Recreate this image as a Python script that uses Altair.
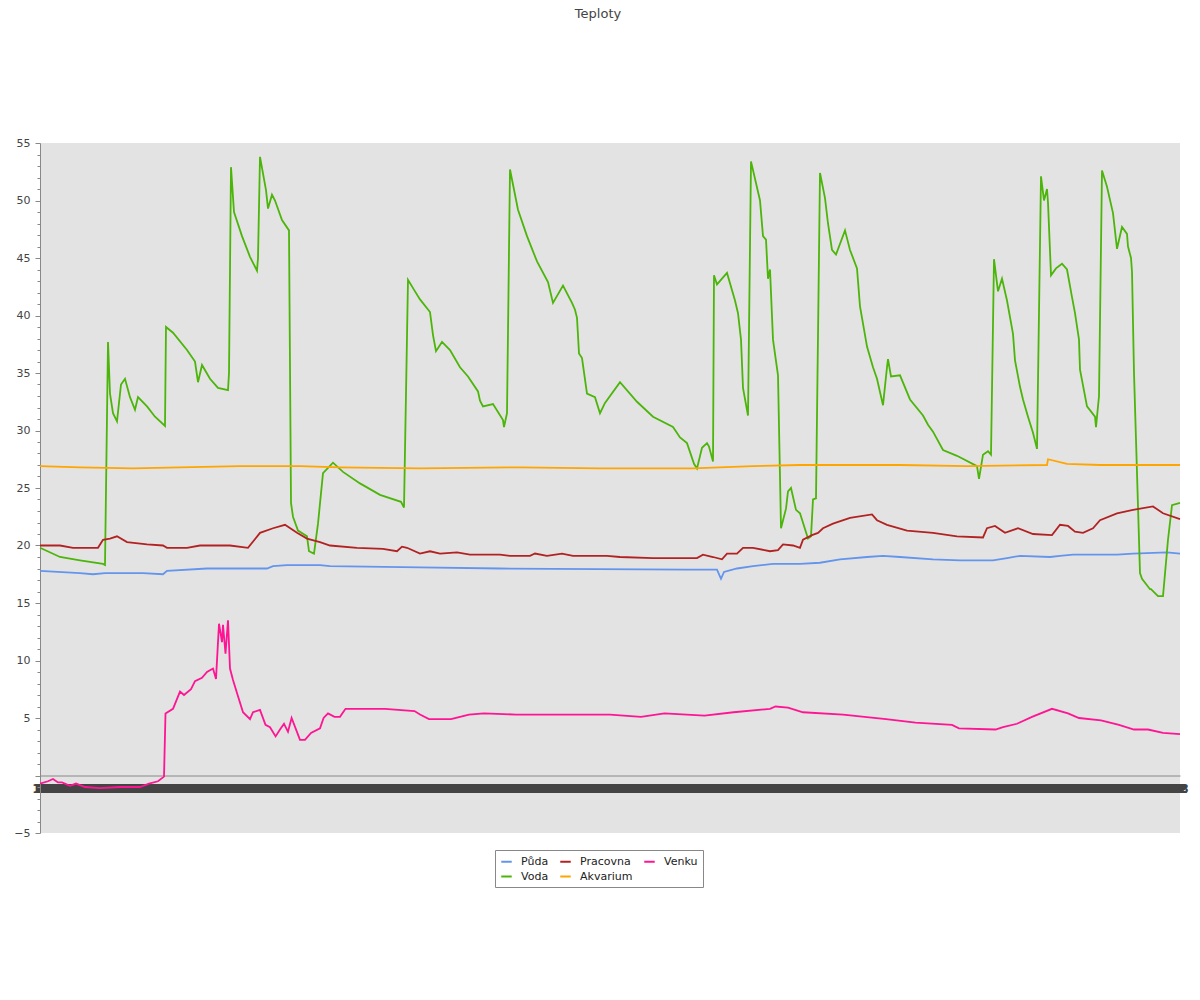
import altair as alt
import pandas as pd

# ---- data (t = position along the time axis, 0..1140; values in °C) ----
puda_t = [0, 40, 53, 65, 103, 123, 127, 167, 227, 233, 247, 280, 290, 380, 460, 647, 677, 681, 684, 697, 713, 733,
          760, 780, 800, 827, 843, 860, 893, 920, 953, 967, 980, 1010, 1020, 1033, 1077, 1093, 1127, 1140]
puda_v = [17.8, 17.6, 17.5, 17.6, 17.6, 17.5, 17.8, 18.0, 18.0, 18.2, 18.3, 18.3, 18.2, 18.1, 18.0, 17.9, 17.9, 17.1,
          17.7, 18.0, 18.2, 18.4, 18.4, 18.5, 18.8, 19.0, 19.1, 19.0, 18.8, 18.7, 18.7, 18.9, 19.1, 19.0, 19.1, 19.2,
          19.2, 19.3, 19.4, 19.3]

voda_t = [0, 20, 40, 63, 65, 68, 70, 73, 77, 81, 85, 90, 95, 98, 107, 115, 125, 126, 133, 147, 155, 158, 162, 170,
          178, 188, 189, 191, 194, 202, 210, 217, 218, 220, 226, 228, 232, 235, 242, 249, 251, 253, 258, 267, 269, 274,
          278, 283, 293, 303, 320, 340, 361, 364, 368, 375, 380, 390, 393, 396, 402, 410, 420, 428, 438, 440, 443, 453,
          463, 464, 467, 470, 478, 487, 497, 508, 513, 523, 532, 535, 537, 539, 542, 547, 555, 560, 565, 580, 597, 613,
          633, 640, 647, 654, 657, 662, 667, 669, 673, 674, 677, 687, 695, 698, 701, 703, 708, 711, 720, 723, 726, 728,
          730, 733, 738, 741, 746, 748, 751, 756, 760, 768, 771, 773, 776, 780, 785, 788, 792, 796, 805, 810, 817, 820,
          827, 833, 837, 843, 847, 848, 851, 860, 870, 883, 888, 893, 903, 917, 937, 939, 943, 948, 951, 954, 958, 962,
          967, 973, 975, 980, 983, 988, 993, 997, 1001, 1004, 1007, 1008, 1011, 1016, 1022, 1027, 1032, 1035, 1039,
          1040, 1047, 1055, 1056, 1059, 1062, 1067, 1073, 1077, 1082, 1087, 1088, 1091, 1092, 1094, 1100, 1102, 1110,
          1111, 1118, 1123, 1128, 1132, 1140]
voda_v = [19.8, 19.0, 18.7, 18.4, 18.3, 37.7, 33.2, 31.5, 30.8, 34.0, 34.5, 32.9, 31.8, 32.9, 32.1, 31.2, 30.4, 39.0,
          38.5, 37.0, 36.0, 34.2, 35.7, 34.5, 33.7, 33.5, 35.0, 52.9, 49.0, 46.9, 45.1, 43.9, 45.0, 53.8, 50.9, 49.3,
          50.5, 50.0, 48.3, 47.4, 23.7, 22.5, 21.3, 20.8, 19.5, 19.3, 21.9, 26.3, 27.2, 26.4, 25.4, 24.4, 23.8, 23.3,
          43.1, 42.1, 41.4, 40.3, 38.3, 36.9, 37.7, 37.0, 35.5, 34.7, 33.4, 32.6, 32.1, 32.3, 30.9, 30.3, 31.5, 52.7,
          49.2, 46.9, 44.7, 42.9, 41.1, 42.6, 41.1, 40.5, 39.8, 36.7, 36.3, 33.2, 32.9, 31.5, 32.4, 34.2, 32.5, 31.2,
          30.3, 29.4, 28.9, 27.1, 26.7, 28.5, 28.9, 28.6, 27.3, 43.5, 42.7, 43.7, 41.3, 40.2, 37.9, 33.7, 31.3, 53.4,
          50.0, 46.9, 46.6, 43.2, 44.0, 37.9, 34.8, 21.5, 23.2, 24.7, 25.0, 23.1, 22.8, 20.6, 20.8, 24.0, 24.1, 52.4,
          50.2, 48.0, 45.7, 45.3, 47.4, 45.7, 44.1, 40.8, 37.3, 35.5, 34.5, 32.2, 35.5, 36.2, 34.7, 34.8, 32.7, 31.3,
          30.5, 29.9, 28.3, 27.8, 26.9, 25.8, 27.9, 28.2, 27.9, 44.9, 42.1, 43.2, 41.3, 38.4, 36.1, 33.8, 32.7, 31.2,
          29.8, 28.4, 52.1, 50.0, 51.0, 49.8, 43.5, 44.1, 44.5, 44.0, 41.6, 40.2, 37.9, 35.3, 32.1, 31.2, 30.3, 33.0,
          52.6, 51.2, 48.9, 45.8, 47.7, 47.1, 46.0, 45.0, 43.8, 35.0, 17.6, 17.1, 16.2, 16.2, 15.6, 15.6, 20.5, 23.5,
          23.7, 22.9]

pracovna_t = [0, 20, 33, 58, 63, 70, 77, 87, 107, 123, 127, 147, 160, 190, 208, 220, 233, 245, 257, 267, 280, 290,
              317, 343, 357, 362, 367, 380, 390, 400, 417, 430, 460, 470, 490, 495, 507, 522, 533, 567, 580, 613, 657,
              663, 673, 682, 687, 697, 703, 713, 730, 738, 743, 753, 760, 763, 772, 778, 783, 793, 810, 832, 837, 847,
              867, 893, 917, 943, 947, 955, 965, 978, 993, 1012, 1020, 1028, 1035, 1043, 1053, 1060, 1077, 1093, 1113,
              1123, 1140]
pracovna_v = [20.0, 20.0, 19.8, 19.8, 20.5, 20.6, 20.8, 20.3, 20.1, 20.0, 19.8, 19.8, 20.0, 20.0, 19.8, 21.1, 21.5,
              21.8, 21.1, 20.6, 20.3, 20.0, 19.8, 19.7, 19.5, 19.9, 19.8, 19.3, 19.5, 19.3, 19.4, 19.2, 19.2, 19.1,
              19.1, 19.3, 19.1, 19.3, 19.1, 19.1, 19.0, 18.9, 18.9, 19.2, 19.0, 18.8, 19.3, 19.3, 19.8, 19.8, 19.5,
              19.6, 20.1, 20.0, 19.8, 20.5, 20.9, 21.1, 21.5, 21.9, 22.4, 22.7, 22.2, 21.8, 21.3, 21.1, 20.8, 20.7,
              21.5, 21.7, 21.1, 21.5, 21.0, 20.9, 21.8, 21.7, 21.2, 21.1, 21.5, 22.2, 22.8, 23.1, 23.4, 22.8, 22.3]

akvarium_t = [0, 40, 93, 140, 200, 260, 300, 380, 480, 560, 653, 713, 760, 860, 927, 1007, 1008, 1027, 1060, 1140]
akvarium_v = [26.9, 26.8, 26.7, 26.8, 26.9, 26.9, 26.8, 26.7, 26.8, 26.7, 26.7, 26.9, 27.0, 27.0, 26.9, 27.0, 27.5,
              27.1, 27.0, 27.0]

venku_t = [0, 8, 13, 18, 22, 30, 36, 45, 60, 80, 100, 109, 118, 124, 125.5, 133, 140, 144, 151, 155, 162, 167, 173,
           176, 179, 182, 183, 185.5, 188, 190, 193, 198, 203, 210, 213, 220, 225.5, 230, 235.6, 240, 244, 248, 251.6,
           260, 265, 271, 280, 283.6, 288, 294.5, 300, 305.5, 327, 345, 374.5, 380, 389, 411, 429, 444, 476, 570, 601,
           624.5, 664.5, 693.6, 730, 735.5, 748, 763, 803, 846, 875.5, 912, 919, 955.5, 963, 977, 992, 1012, 1028,
           1039, 1061, 1079, 1094, 1108, 1123, 1140]
venku_v = [-0.7, -0.5, -0.3, -0.6, -0.6, -0.9, -0.7, -1.0, -1.1, -1.0, -1.0, -0.7, -0.5, -0.1, 5.4, 5.8, 7.3, 7.0,
           7.5, 8.2, 8.5, 9.0, 9.3, 8.4, 13.2, 11.6, 13.1, 10.6, 13.5, 9.3, 8.3, 6.9, 5.5, 4.9, 5.5, 5.7, 4.4, 4.2,
           3.4, 4.0, 4.5, 3.8, 5.0, 3.1, 3.1, 3.7, 4.1, 5.0, 5.4, 5.1, 5.1, 5.8, 5.8, 5.8, 5.6, 5.3, 4.9, 4.9, 5.3,
           5.4, 5.3, 5.3, 5.1, 5.4, 5.2, 5.5, 5.8, 6.0, 5.9, 5.5, 5.3, 4.9, 4.6, 4.4, 4.1, 4.0, 4.2, 4.5, 5.1, 5.8,
           5.4, 5.0, 4.8, 4.4, 4.0, 4.0, 3.7, 3.6]

series = [
    ("Půda", puda_t, puda_v),
    ("Voda", voda_t, voda_v),
    ("Pracovna", pracovna_t, pracovna_v),
    ("Akvarium", akvarium_t, akvarium_v),
    ("Venku", venku_t, venku_v),
]
legend_order = ["Půda", "Voda", "Pracovna", "Akvarium", "Venku"]
colors = ["#6495ED", "#4CB50A", "#B22222", "#FFA500", "#FF1493"]

# x-axis tick positions (dense hour labels, start 15:00, 36 h span)
x_ticks = list(range(0, 1141, 1))
start_hour = 15
span_hours = 36

rows = []
for name, ts, vs in series:
    for t, v in zip(ts, vs):
        rows.append({"serie": name, "t": t, "v": v})
df = pd.DataFrame(rows)

W, H = 1140, 690
y_min, y_max = -5, 55
x_axis_offset = -H * (0 - y_min) / (y_max - y_min)

hour_expr = f"(({start_hour} + floor(datum.value * {span_hours} / 1140)) % 24)"
label_expr = f"({hour_expr} < 10 ? '0' : '') + {hour_expr}"

chart = alt.Chart(df).mark_line(strokeWidth=1.8, interpolate="linear").encode(
    x=alt.X("t:Q", scale=alt.Scale(domain=[0, 1140], nice=False, zero=False),
            axis=alt.Axis(values=x_ticks, labelExpr=label_expr, title=None, orient="bottom",
                          offset=x_axis_offset, ticks=False, domainColor="#888888", labelColor="#444444",
                          labelFontSize=12, labelFontWeight="bold", labelPadding=7.5, labelOverlap=False,
                          labelFlush=False, grid=False, labelFont="DejaVu Sans")),
    y=alt.Y("v:Q", scale=alt.Scale(domain=[y_min, y_max], nice=False, zero=False),
            axis=alt.Axis(values=list(range(y_min, y_max + 1)), title=None, grid=False,
                          labelExpr="datum.value % 5 === 0 && datum.value !== 0 ? datum.label : ''",
                          tickSize={"condition": {"test": "datum.value % 5 === 0", "value": 5}, "value": 3},
                          tickColor="#888888", domainColor="#888888", labelColor="#444444",
                          labelFontSize=11, labelPadding=5, labelFont="DejaVu Sans")),
    color=alt.Color("serie:N", scale=alt.Scale(domain=legend_order, range=colors),
                    legend=alt.Legend(title=None, orient="none", legendX=455, legendY=707, columns=3,
                                      symbolType="stroke", symbolStrokeWidth=2, symbolSize=110,
                                      labelFontSize=11, labelColor="#222222", labelFont="DejaVu Sans",
                                      strokeColor="#888888", fillColor="white", padding=5,
                                      columnPadding=7, rowPadding=3, labelOffset=8)),
    order=alt.Order("t:Q"),
).properties(
    width=W, height=H,
    title=alt.TitleParams("Teploty", fontSize=13, fontWeight="normal", color="#444444",
                          font="DejaVu Sans", anchor="middle", offset=116, dx=-12),
    padding={"left": 32, "top": 135, "right": 10, "bottom": 150},
    autosize=alt.AutoSizeParams(type="none"),
).configure_view(fill="#E3E3E3", strokeWidth=0)

chart.save("out.html", embed_options={"renderer": "svg", "actions": False})
